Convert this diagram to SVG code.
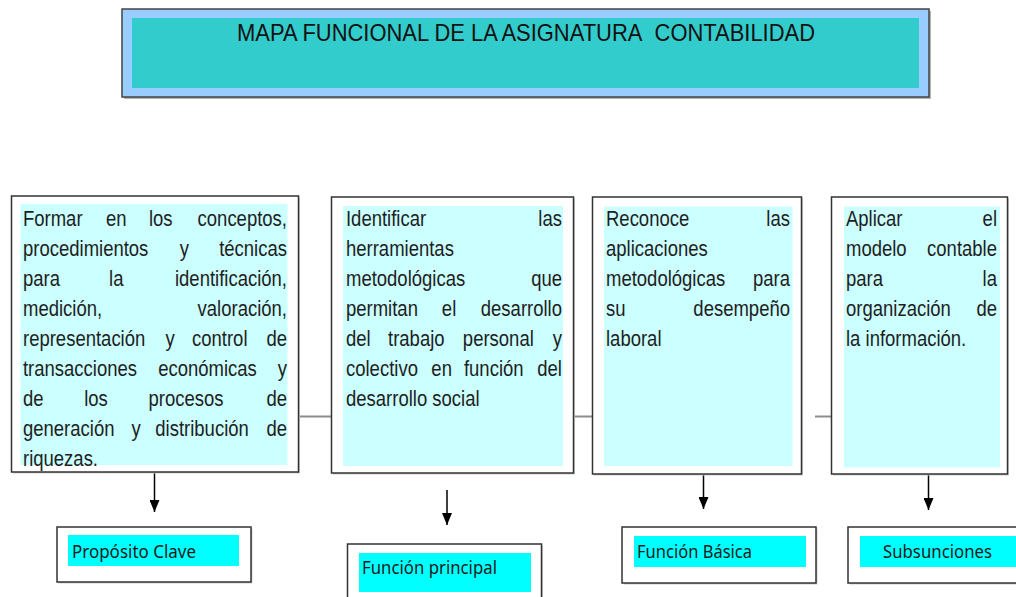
<svg xmlns="http://www.w3.org/2000/svg" width="1016" height="597" viewBox="0 0 1016 597">
<defs>
<style>
.shadow{fill:#cfcfcf}
.box{fill:#ffffff;stroke:#333333;stroke-width:1.5}
.pale{fill:#ccffff}
.cyan{fill:#00ffff}
.body{font-family:"Liberation Sans",Arial,sans-serif;font-size:18.5px;fill:#1e1e1e}
.lbl{font-family:"Noto Sans","Open Sans",sans-serif;font-size:17.5px;fill:#1a1a1a}
.conn{stroke:#8c8c8c;stroke-width:2;fill:none}
.arrow{stroke:#000000;stroke-width:1.5;fill:none;marker-end:url(#ah)}
</style>
<marker id="ah" markerUnits="userSpaceOnUse" markerWidth="12" markerHeight="10" viewBox="0 0 12 10" refX="12" refY="5" orient="auto">
<path d="M0,0 L12,5 L0,10 z" fill="#000000"/>
</marker>
</defs>
<rect width="1016" height="597" fill="#ffffff"/>

<g id="title">
<rect x="124" y="11" width="807" height="88" fill="#b3b3b3"/>
<rect x="122" y="9" width="807" height="88" fill="#99ccff" stroke="#444444" stroke-width="1.5"/>
<rect x="132" y="18" width="787" height="70" fill="#33cccc"/>
<text x="237" y="41" font-family="Liberation Sans, Arial, sans-serif" font-size="24.5" textLength="578" lengthAdjust="spacingAndGlyphs" fill="#111111">MAPA FUNCIONAL DE LA ASIGNATURA&#160; CONTABILIDAD</text>
</g>

<g id="connectors">
<line class="conn" x1="299" y1="416.5" x2="332" y2="416.5"/>
<line class="conn" x1="574" y1="416.5" x2="593" y2="416.5"/>
<line class="conn" x1="815" y1="416.5" x2="832" y2="416.5"/>
<line class="arrow" x1="154.5" y1="472" x2="154.5" y2="512"/>
<line class="arrow" x1="447" y1="490" x2="447" y2="525"/>
<line class="arrow" x1="703.5" y1="474" x2="703.5" y2="509"/>
<line class="arrow" x1="928.5" y1="475" x2="928.5" y2="510"/>
</g>

<g id="box-proposito-text">
<rect class="shadow" x="13" y="197.5" width="287" height="276"/>
<rect class="box" x="11.5" y="196" width="287" height="276"/>
<rect class="pale" x="20.5" y="204" width="267" height="261"/>
<g transform="scale(1,1.2)">
<text class="body" y="188.333"><tspan x="23">Formar</tspan><tspan x="106">en</tspan><tspan x="148.9">los</tspan></text>
<text class="body" y="188.333" x="287" text-anchor="end">conceptos,</text>
<text class="body" y="213.333"><tspan x="23">procedimientos</tspan><tspan x="179.8">y</tspan></text>
<text class="body" y="213.333" x="287" text-anchor="end">técnicas</text>
<text class="body" y="238.333"><tspan x="23">para</tspan><tspan x="109.05">la</tspan></text>
<text class="body" y="238.333" x="287" text-anchor="end">identificación,</text>
<text class="body" y="263.333" x="23">medición,</text>
<text class="body" y="263.333" x="287" text-anchor="end">valoración,</text>
<text class="body" y="288.333"><tspan x="23">representación</tspan><tspan x="165.6">y</tspan><tspan x="192">control</tspan></text>
<text class="body" y="288.333" x="287" text-anchor="end">de</text>
<text class="body" y="313.333"><tspan x="23">transacciones</tspan><tspan x="158.15">económicas</tspan></text>
<text class="body" y="313.333" x="287" text-anchor="end">y</text>
<text class="body" y="338.333"><tspan x="23">de</tspan><tspan x="84.2">los</tspan><tspan x="148.6">procesos</tspan></text>
<text class="body" y="338.333" x="287" text-anchor="end">de</text>
<text class="body" y="363.333"><tspan x="23">generación</tspan><tspan x="131.4">y</tspan><tspan x="155.3">distribución</tspan></text>
<text class="body" y="363.333" x="287" text-anchor="end">de</text>
<text class="body" y="388.333" x="23">riquezas.</text>
</g>
</g>

<g id="box-principal-text">
<rect class="shadow" x="333" y="198.5" width="242" height="276"/>
<rect class="box" x="331.5" y="197" width="242" height="276"/>
<rect class="pale" x="343" y="206" width="220" height="260"/>
<g transform="scale(1,1.2)">
<text class="body" y="188.333" x="346">Identificar</text>
<text class="body" y="188.333" x="562" text-anchor="end">las</text>
<text class="body" y="213.333" x="346">herramientas</text>
<text class="body" y="238.333" x="346">metodológicas</text>
<text class="body" y="238.333" x="562" text-anchor="end">que</text>
<text class="body" y="263.333"><tspan x="346">permitan</tspan><tspan x="441.85">el</tspan></text>
<text class="body" y="263.333" x="562" text-anchor="end">desarrollo</text>
<text class="body" y="288.333"><tspan x="346">del</tspan><tspan x="388.03">trabajo</tspan><tspan x="462.86">personal</tspan></text>
<text class="body" y="288.333" x="562" text-anchor="end">y</text>
<text class="body" y="313.333"><tspan x="346">colectivo</tspan><tspan x="431.37">en</tspan><tspan x="463.94">función</tspan></text>
<text class="body" y="313.333" x="562" text-anchor="end">del</text>
<text class="body" y="338.333" x="346">desarrollo social</text>
</g>
</g>

<g id="box-basica-text">
<rect class="shadow" x="594" y="198.5" width="209" height="277"/>
<rect class="box" x="592.5" y="197" width="209" height="277"/>
<rect class="pale" x="604" y="206.5" width="188.5" height="259.5"/>
<g transform="scale(1,1.2)">
<text class="body" y="188.333" x="606">Reconoce</text>
<text class="body" y="188.333" x="790" text-anchor="end">las</text>
<text class="body" y="213.333" x="606">aplicaciones</text>
<text class="body" y="238.333" x="606">metodológicas</text>
<text class="body" y="238.333" x="790" text-anchor="end">para</text>
<text class="body" y="263.333" x="606">su</text>
<text class="body" y="263.333" x="790" text-anchor="end">desempeño</text>
<text class="body" y="288.333" x="606">laboral</text>
</g>
</g>

<g id="box-subfunciones-text">
<rect class="shadow" x="833" y="198.5" width="176" height="277"/>
<rect class="box" x="831.5" y="197" width="176" height="277"/>
<rect class="pale" x="844" y="206.5" width="156" height="261"/>
<g transform="scale(1,1.2)">
<text class="body" y="188.333" x="846">Aplicar</text>
<text class="body" y="188.333" x="997" text-anchor="end">el</text>
<text class="body" y="213.333" x="846">modelo</text>
<text class="body" y="213.333" x="997" text-anchor="end">contable</text>
<text class="body" y="238.333" x="846">para</text>
<text class="body" y="238.333" x="997" text-anchor="end">la</text>
<text class="body" y="263.333" x="846">organización</text>
<text class="body" y="263.333" x="997" text-anchor="end">de</text>
<text class="body" y="288.333" x="846">la información.</text>
</g>
</g>

<g id="proposito-clave">
<rect class="shadow" x="58.5" y="528.5" width="194" height="55"/>
<rect class="box" x="57" y="527" width="194" height="55"/>
<rect class="cyan" x="68" y="535" width="171" height="31"/>
<text class="lbl" x="72" y="557.5" textLength="124" lengthAdjust="spacingAndGlyphs">Propósito Clave</text>
</g>

<g id="funcion-principal">
<rect class="shadow" x="349" y="545.5" width="194" height="60"/>
<rect class="box" x="347.5" y="544" width="194" height="60"/>
<rect class="cyan" x="359" y="553" width="172" height="39"/>
<text class="lbl" x="362" y="573.5" textLength="135" lengthAdjust="spacingAndGlyphs">Función principal</text>
</g>

<g id="funcion-basica">
<rect class="shadow" x="623.5" y="528.5" width="194" height="56"/>
<rect class="box" x="622" y="527" width="194" height="56"/>
<rect class="cyan" x="634" y="536" width="172" height="31"/>
<text class="lbl" x="637" y="557.5" textLength="115" lengthAdjust="spacingAndGlyphs">Función Básica</text>
</g>

<g id="subsunciones">
<rect class="shadow" x="849.5" y="528.5" width="180" height="56"/>
<rect class="box" x="848" y="527" width="180" height="56"/>
<rect class="cyan" x="860" y="536" width="156" height="31"/>
<text class="lbl" x="883" y="557.5" textLength="109" lengthAdjust="spacingAndGlyphs">Subsunciones</text>
</g>
</svg>
